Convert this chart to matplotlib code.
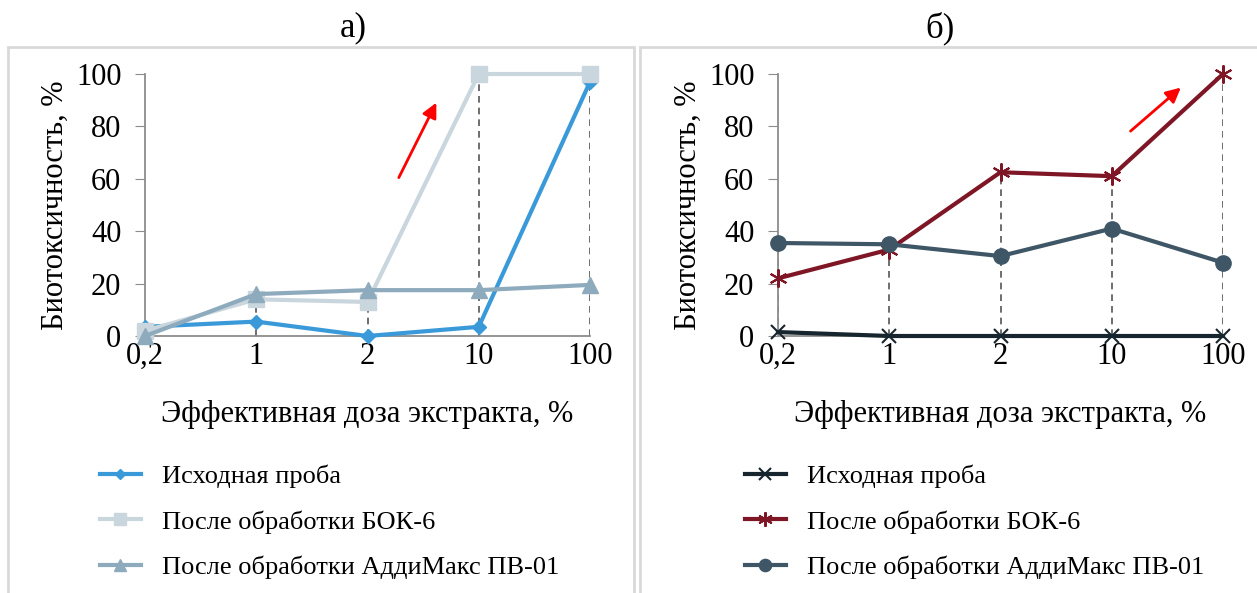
import numpy as np
import matplotlib.pyplot as plt
from matplotlib.patches import Rectangle
from matplotlib.font_manager import FontProperties

FONT = 'Liberation Serif'
plt.rcParams['font.family'] = 'serif'
plt.rcParams['font.serif'] = [FONT, 'DejaVu Serif']

doses = ['0,2', '1', '2', '10', '100']
series_names = ['Исходная проба', 'После обработки БОК-6', 'После обработки АддиМакс ПВ-01']

# panel а)
a_initial = [3.5, 5.5, 0.0, 3.5, 97.0]
a_bok6 = [2.0, 14.0, 13.0, 100.0, 100.0]
a_addimax = [0.0, 16.0, 17.5, 17.5, 19.5]

# panel б)
b_initial = [1.5, 0.0, 0.0, 0.0, 0.0]
b_bok6 = [22.0, 33.0, 62.5, 61.0, 100.0]
b_addimax = [35.5, 35.0, 30.5, 41.0, 28.0]

W, H = 1257, 593
fig = plt.figure(figsize=(W / 100, H / 100), dpi=100)


def px_box(x0, x1, y_top, y_bottom):
    return [x0 / W, 1 - y_bottom / H, (x1 - x0) / W, (y_bottom - y_top) / H]


# panel frames
for x0, x1 in [(8, 634), (640, 1262)]:
    fig.patches.append(Rectangle((x0 / W, -0.05), (x1 - x0) / W, 1 - 47 / H + 0.05,
                                 transform=fig.transFigure, fill=False,
                                 edgecolor='#d9d9d9', lw=2))


def draw_panel(ax, data, styles, arrow):
    x = np.arange(len(doses))
    tops = np.max(np.array(data), axis=0)
    ax.vlines(x, 0, tops, colors='#555555', linestyles=(0, (4, 3)), lw=1.2, zorder=1)
    for vals, name, st in zip(data, series_names, styles):
        ax.plot(x, vals, label=name, clip_on=False, zorder=3, **st)
    ax.set_xlim(0, len(doses) - 1)
    ax.set_ylim(0, 100)
    ax.set_xticks(x)
    ax.set_xticklabels(doses, family=FONT, fontsize=22)
    ax.set_yticks(range(0, 101, 20))
    ax.set_yticklabels([str(v) for v in range(0, 101, 20)], family=FONT, fontsize=22)
    ax.tick_params(axis='x', length=0, pad=4)
    ax.tick_params(axis='y', length=7, color='#8c8c8c', pad=10)
    for s in ['top', 'right']:
        ax.spines[s].set_visible(False)
    for s in ['left', 'bottom']:
        ax.spines[s].set_color('#8c8c8c')
        ax.spines[s].set_linewidth(1.3)
    ax.set_ylabel('Биотоксичность, %', family=FONT, fontsize=22)
    ax.set_xlabel('Эффективная доза экстракта, %', family=FONT, fontsize=22, labelpad=21)
    ax.yaxis.set_label_coords(-0.168, 0.5)
    ax.annotate('', xy=arrow[1], xytext=arrow[0],
                arrowprops=dict(arrowstyle='-|>', color='red', lw=2, mutation_scale=22))


ax_a = fig.add_axes(px_box(145, 590, 74, 336))
styles_a = [
    dict(color='#3a9ad9', lw=3, marker='D', ms=7),
    dict(color='#cad6dd', lw=3, marker='s', ms=11),
    dict(color='#8eaabd', lw=3, marker='^', ms=11),
]
draw_panel(ax_a, [a_initial, a_bok6, a_addimax], styles_a, ((2.27, 59.5), (2.63, 90)))

ax_b = fig.add_axes(px_box(778, 1223, 74, 336))
styles_b = [
    dict(color='#17262e', lw=3, marker='x', ms=10, mew=1.5),
    dict(color='#7f1626', lw=3, marker=(6, 2, 0), ms=13, mew=1.5),
    dict(color='#3e5666', lw=3, marker='o', ms=11),
]
draw_panel(ax_b, [b_initial, b_bok6, b_addimax], styles_b, ((3.15, 77.5), (3.64, 95.5)))

legend_font = FontProperties(family=FONT, size=19)
for ax, lx in [(ax_a, 100), (ax_b, 745)]:
    h, l = ax.get_legend_handles_labels()
    fig.legend(h, l, loc='upper left', bbox_to_anchor=(lx / W, 1 - 465 / H),
               frameon=False, prop=legend_font, handlelength=1.55, labelspacing=0.82,
               handletextpad=0.8, markerscale=0.8, borderpad=0, borderaxespad=0)

fig.text(353 / W, 1 - 28 / H, 'а)', ha='center', va='center', family=FONT, fontsize=25)
fig.text(940 / W, 1 - 28 / H, 'б)', ha='center', va='center', family=FONT, fontsize=25)

fig.savefig('out.png', dpi=100)
